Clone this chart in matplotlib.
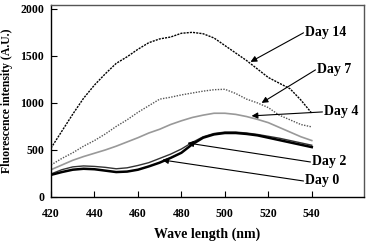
import matplotlib
matplotlib.use("Agg")
import matplotlib.pyplot as plt
import numpy as np

# wavelength grid (nm)
wave = [420, 425, 430, 435, 440, 445, 450, 455, 460, 465, 470, 475, 480,
        485, 490, 495, 500, 505, 510, 515, 520, 525, 530, 535, 540]

day14 = [520, 700, 880, 1050, 1190, 1310, 1420, 1490, 1570, 1640, 1680, 1700,
         1740, 1750, 1735, 1690, 1610, 1530, 1450, 1360, 1270, 1210, 1150,
         1030, 890]
day7 = [340, 410, 470, 540, 600, 670, 750, 820, 900, 970, 1040, 1060, 1085,
        1105, 1125, 1140, 1145, 1100, 1040, 1000, 950, 870, 820, 770, 745]
day4 = [290, 340, 390, 430, 465, 500, 540, 585, 630, 680, 720, 770, 810, 845,
        870, 890, 890, 878, 855, 825, 790, 740, 690, 640, 600]
day2 = [245, 290, 320, 330, 325, 315, 300, 310, 335, 365, 410, 455, 510, 580,
        640, 675, 690, 690, 680, 665, 645, 625, 600, 575, 550]
day0 = [235, 265, 290, 300, 295, 280, 265, 270, 290, 325, 365, 415, 470, 560,
        630, 665, 680, 680, 670, 655, 630, 605, 580, 555, 530]

xticks = [420, 440, 460, 480, 500, 520, 540]
yticks = [0, 500, 1000, 1500, 2000]

labels = ["Day 14", "Day 7", "Day 4", "Day 2", "Day 0"]
# (text position, arrow tip) in data coords
text_pos = [(536.8, 1745), (542.3, 1351), (545.5, 904), (540, 372), (536.8, 170)]
tip_pos = [(511.8, 1436), (516.9, 1000), (512.3, 862), (482.8, 574), (471.2, 394)]

serif = ["Liberation Serif", "DejaVu Serif"]

fig = plt.figure(figsize=(3.68, 2.41), dpi=100)
ax = fig.add_axes([0.1386, 0.1826, 0.8504, 0.7984])

ax.plot(wave, day14, color="black", lw=1.0, ls=(0, (1.5, 0.8)))
ax.plot(wave, day7, color="#555555", lw=1.0, ls=(0, (1, 1)))
ax.plot(wave, day4, color="#999999", lw=1.2)
ax.plot(wave, day2, color="#333333", lw=1.0)
ax.plot(wave, day0, color="black", lw=1.8)

for lab, tp, tip in zip(labels, text_pos, tip_pos):
    ax.text(tp[0], tp[1], lab, fontsize=10, fontweight="bold", family=serif,
            ha="left", va="center")
    ax.annotate("", xy=tip, xytext=(tp[0] - 0.6, tp[1]),
                arrowprops=dict(arrowstyle="-|>", color="black", lw=0.8,
                                mutation_scale=9, shrinkA=0, shrinkB=0))

ax.set_xlim(420, 564)
ax.set_ylim(0, 2045)
ax.set_xticks(xticks)
ax.set_yticks(yticks)
ax.tick_params(direction="in", length=4, width=0.8, labelsize=8.5)
ax.tick_params(axis="x", pad=8)
ax.tick_params(axis="y", pad=5)
for t in ax.get_xticklabels() + ax.get_yticklabels():
    t.set_family(serif)
    t.set_fontweight("bold")

ax.set_xlabel("Wave length (nm)", fontsize=10, fontweight="bold", family=serif,
              labelpad=5)
ax.set_ylabel("Fluorescence intensity (A.U.)", fontsize=8.5, fontweight="bold",
              family=serif, labelpad=5)

for side in ["left", "bottom"]:
    ax.spines[side].set_color("black")
    ax.spines[side].set_linewidth(1.0)
for side in ["top", "right"]:
    ax.spines[side].set_color("#555555")
    ax.spines[side].set_linewidth(1.0)

fig.savefig("out.png", dpi=100)
